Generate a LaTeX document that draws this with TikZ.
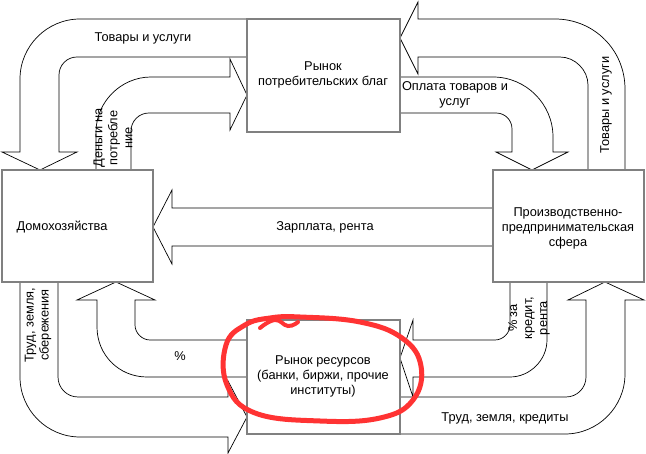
\documentclass[tikz,border=0pt]{standalone}
\usepackage{fontspec}
\setmainfont{Liberation Sans}
\begin{document}
\begin{tikzpicture}[x=1pt,y=-1pt,
  flow/.style={draw=black,fill=white,line width=0.7pt,line join=miter},
  box/.style={draw=black!50,fill=white,line width=2pt},
  lbl/.style={font=\fontsize{12.8}{15}\selectfont,align=center,inner sep=0pt}]
\useasboundingbox (0,0) rectangle (646,454);
% arrows
\draw[flow] (247,19) -- (80,19) .. controls (47,19) and (20,46) .. (20,79) -- (20,152) -- (2,152) -- (40,170) -- (77,152) -- (59,152) -- (59,75) .. controls (59,65) and (67,57) .. (77,57) -- (247,57) -- cycle;
\draw[flow] (96,170) -- (96,132) .. controls (96,102) and (121,77) .. (151,77) -- (230,77) -- (230,59) -- (247,95) -- (230,130) -- (230,113) -- (149,113) .. controls (139,113) and (131,121) .. (131,131) -- (131,170) -- cycle;
\draw[flow] (400,77) -- (493,77) .. controls (526,77) and (553,104) .. (553,137) -- (553,152) -- (568,152) -- (532,170) -- (496,152) -- (512,152) -- (512,129) .. controls (512,120) and (505,113) .. (496,113) -- (400,113) -- cycle;
\draw[flow] (625,170) -- (625,89) .. controls (625,50) and (594,19) .. (555,19) -- (418,19) -- (418,2) -- (400,38) -- (418,74) -- (418,57) -- (560,57) .. controls (575,57) and (588,70) .. (588,85) -- (588,170) -- cycle;
\draw[flow] (493,208) -- (172,208) -- (172,190) -- (153,227) -- (172,264) -- (172,246) -- (493,246) -- cycle;
\draw[flow] (20,282) -- (20,377) .. controls (20,410) and (47,437) .. (80,437) -- (228,437) -- (228,453) -- (247,417) -- (228,381) -- (228,397) -- (78,397) .. controls (67,397) and (58,388) .. (58,377) -- (58,282) -- cycle;
\draw[flow] (247,340) -- (150,340) .. controls (142,340) and (135,333) .. (135,325) -- (135,300) -- (155,300) -- (116,282) -- (77,300) -- (97,300) -- (97,327) .. controls (97,355) and (119,377) .. (147,377) -- (247,377) -- cycle;
\draw[flow] (510,282) -- (510,325) .. controls (510,333) and (503,340) .. (495,340) -- (413,340) -- (413,320) -- (400,358) -- (413,397) -- (413,377) -- (510,377) .. controls (530,377) and (547,360) .. (547,340) -- (547,282) -- cycle;
\draw[flow] (400,397) -- (566,397) .. controls (577,397) and (586,388) .. (586,377) -- (586,300) -- (568,300) -- (605,282) -- (644,300) -- (625,300) -- (625,374) .. controls (625,407) and (598,434) .. (565,434) -- (400,434) -- cycle;
% boxes
\node[box,minimum width=153pt,minimum height=113pt] (goods) at (323.5,76) {};
\node[box,minimum width=151pt,minimum height=112pt] (home) at (77.5,226) {};
\node[box,minimum width=151pt,minimum height=112pt] (prod) at (568.5,226) {};
\node[box,minimum width=153pt,minimum height=114pt] (res) at (323.5,377) {};
% labels
\node[lbl] (tgoods) at (323,75) {Рынок\\потребительских благ};
\node[lbl] (thome) at (62,227) {Домохозяйства};
\node[lbl] (tprod) at (568,228) {Производственно-\\предпринимательская\\сфера};
\node[lbl] (tres) at (323,376) {Рынок ресурсов\\(банки, биржи, прочие\\институты)};
\node[lbl] (l1) at (143,38) {Товары и услуги};
\node[lbl,rotate=90] (l2) at (113,138) {Деньги на\\потребле\\ние};
\node[lbl] (l3) at (455,95) {Оплата товаров и\\услуг};
\node[lbl,rotate=90] (l4) at (606,105) {Товары и услуги};
\node[lbl] (l5) at (325,227) {Зарплата, рента};
\node[lbl,rotate=90] (l6) at (38,325) {Труд, земля,\\сбережения};
\node[lbl] (l7) at (180,356) {\%};
\node[lbl,rotate=90] (l8) at (529,318) {\% за\\кредит,\\рента};
\node[lbl] (l9) at (505,418) {Труд, земля, кредиты};
% red hand-drawn circle
\draw[red!80!white,line width=5pt,line cap=round] plot[smooth cycle,tension=0.7] coordinates {(300,317) (360,322) (402,338) (421,366) (413,400) (380,418) (320,421) (255,413) (227,385) (226,345) (245,325) (270,318)};
\draw[red!80!white,line width=4pt,line cap=round] plot[smooth,tension=0.8] coordinates {(260,328) (275,320) (288,326) (298,322)};
\end{tikzpicture}
\end{document}
